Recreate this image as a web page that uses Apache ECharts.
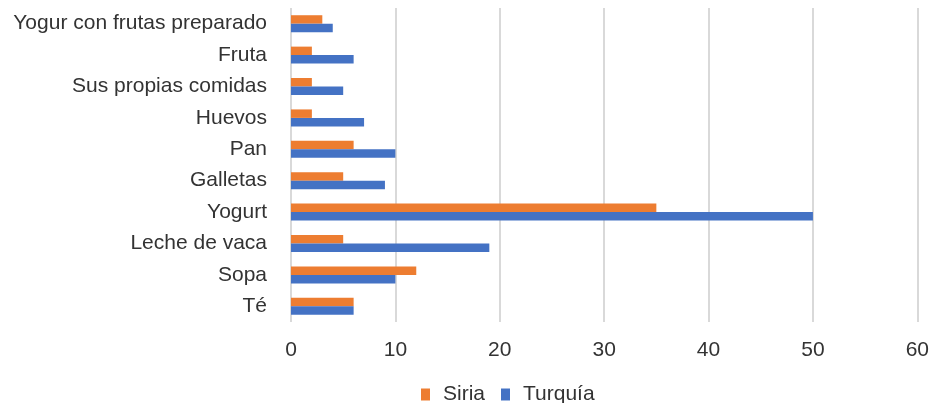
<!DOCTYPE html>
<html>
<head>
<meta charset="utf-8">
<script src="https://cdn.jsdelivr.net/npm/echarts@6/dist/echarts.min.js"></script>
<style>
  html, body { margin: 0; padding: 0; background: #fff; }
  #main { width: 932px; height: 403px; }
</style>
</head>
<body>
<div id="main"></div>
<script>
// categories top to bottom
var categories = ["Yogur con frutas preparado", "Fruta", "Sus propias comidas", "Huevos", "Pan",
  "Galletas", "Yogurt", "Leche de vaca", "Sopa", "Té"];
var siria = [3, 2, 2, 2, 6, 5, 35, 5, 12, 6];
var turquia = [4, 6, 5, 7, 10, 9, 50, 19, 10, 6];
var seriesNames = ["Siria", "Turquía"];

var chart = echarts.init(document.getElementById('main'));

var option = {
  animation: false,
  textStyle: { fontFamily: '"Liberation Sans", Arial, sans-serif' },
  legend: {
    data: seriesNames,
    left: 416,
    top: 379,
    itemWidth: 9,
    itemHeight: 12,
    itemGap: 16,
    icon: 'rect',
    textStyle: { fontSize: 21, color: '#333', padding: [0, 0, 0, 8] }
  },
  grid: { left: 291, right: 7, top: 8, bottom: 81 },
  xAxis: {
    type: 'value',
    min: 0,
    max: 60,
    interval: 10,
    axisLine: { show: false },
    axisTick: { show: false },
    axisLabel: { fontSize: 21, color: '#333', margin: 18 },
    splitLine: { lineStyle: { color: '#d9d9d9', width: 2 } }
  },
  yAxis: {
    type: 'category',
    data: categories,
    inverse: true,
    axisLine: { show: false },
    axisTick: { show: false },
    axisLabel: { fontSize: 21, color: '#333', margin: 24 }
  },
  series: [
    {
      name: seriesNames[0],
      type: 'bar',
      data: siria,
      itemStyle: { color: '#ED7D31' },
      barGap: '0%',
      barCategoryGap: '46%'
    },
    {
      name: seriesNames[1],
      type: 'bar',
      data: turquia,
      itemStyle: { color: '#4472C4' },
      barGap: '0%',
      barCategoryGap: '46%'
    }
  ]
};

chart.setOption(option);
</script>
</body>
</html>
